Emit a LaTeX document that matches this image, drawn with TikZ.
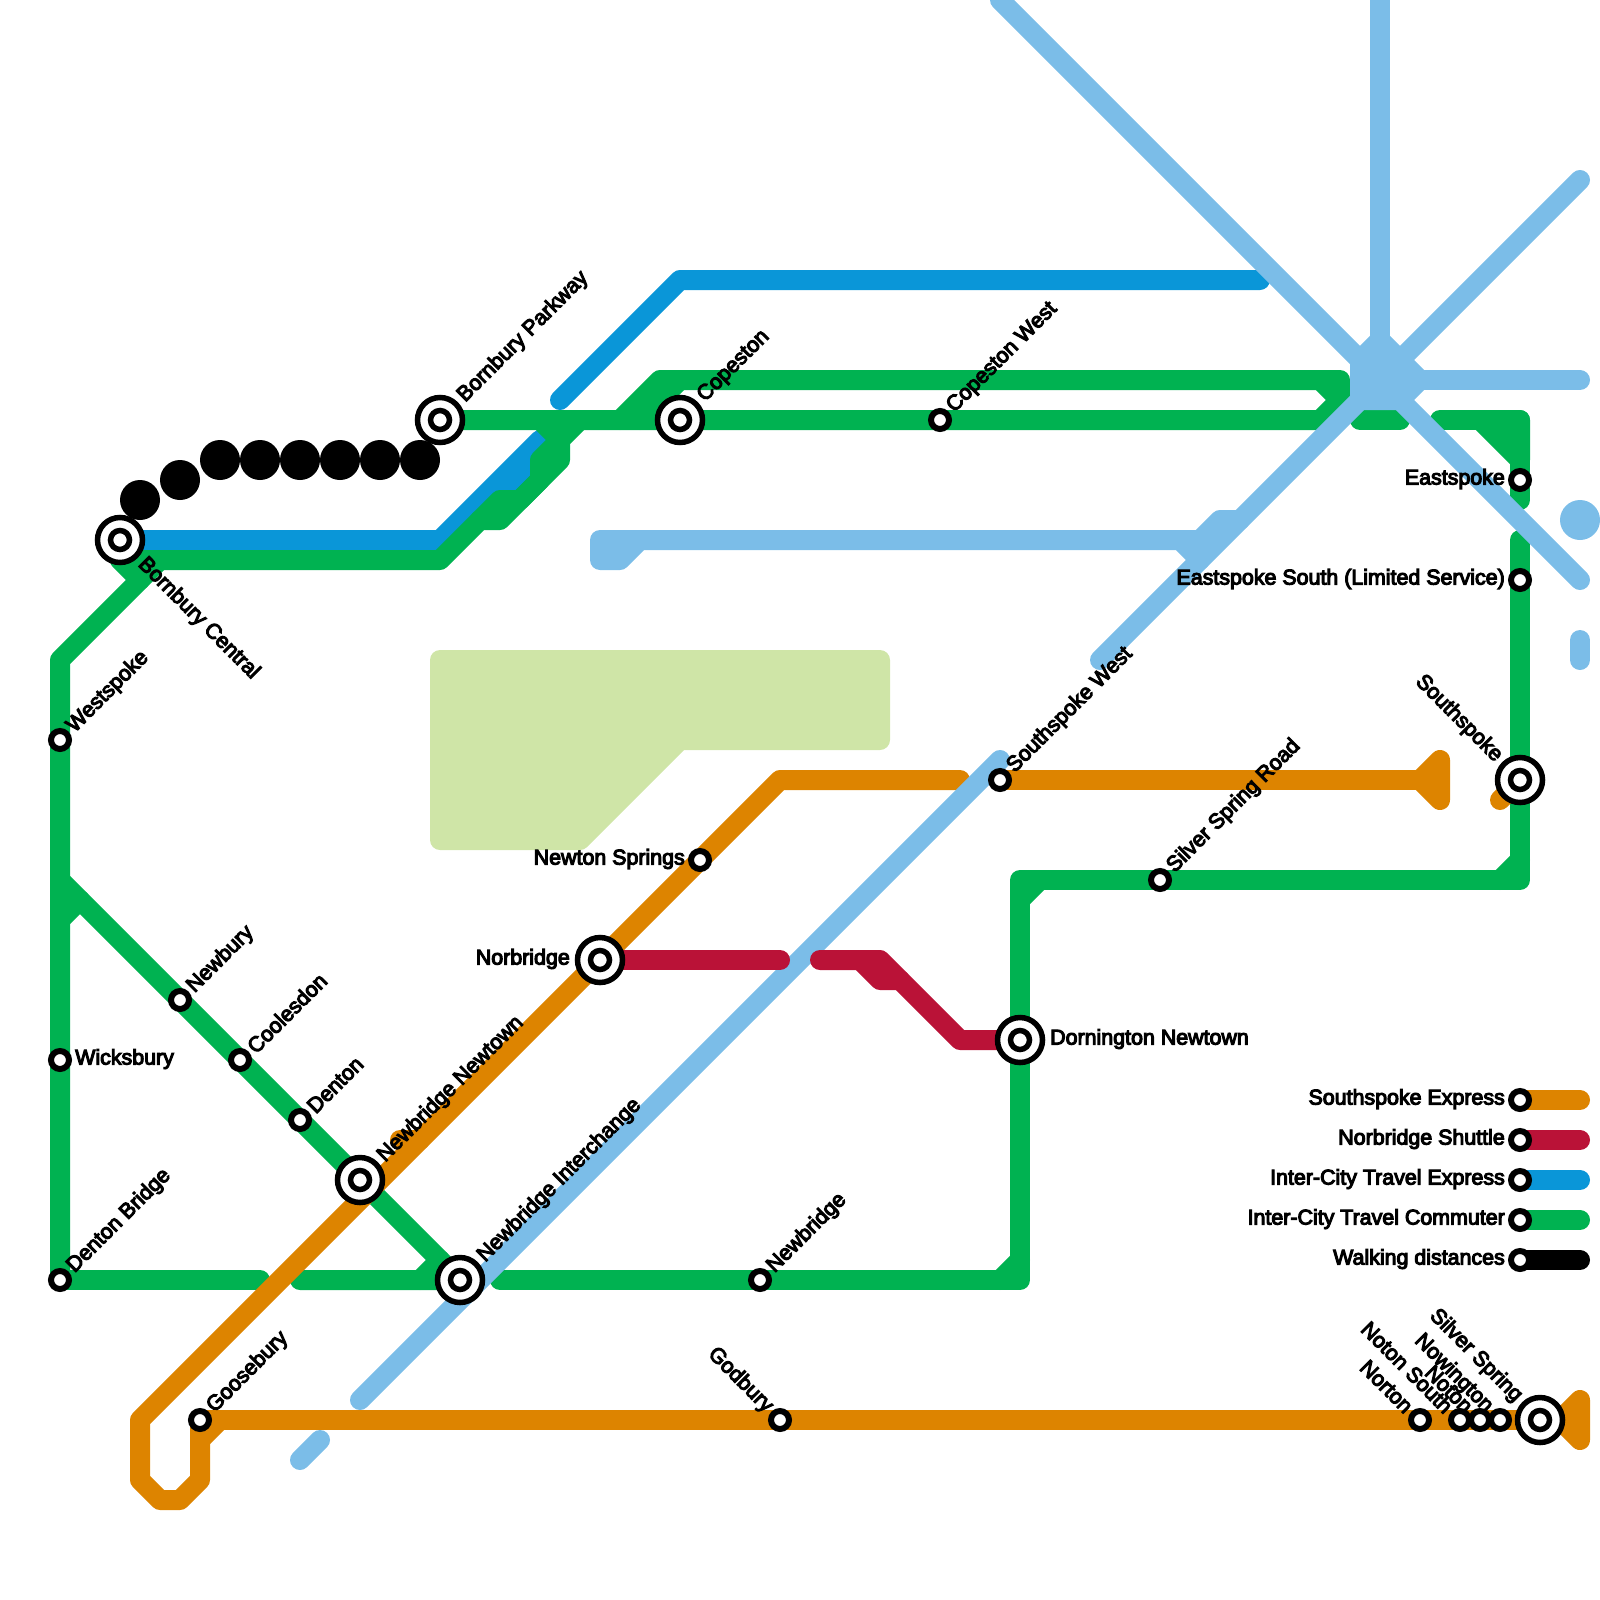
\documentclass[tikz,border=0pt]{standalone}
\usepackage{fontspec}
\setmainfont[FakeBold=5]{Liberation Sans}
\definecolor{mapGreen}{HTML}{00B251}
\definecolor{mapOrange}{HTML}{DD8400}
\definecolor{mapRed}{HTML}{BA1237}
\definecolor{mapBlue}{HTML}{0A96D8}
\definecolor{mapSky}{HTML}{7BBDE8}
\definecolor{mapPark}{HTML}{CFE5A7}
\usetikzlibrary{backgrounds}

\begin{document}
\begin{tikzpicture}[
  x=20pt,y=-20pt,
  stn/.style={circle,draw=black,fill=white,line width=6pt,inner sep=0pt,outer sep=0pt,minimum size=18pt},
  xout/.style={circle,draw=black,fill=white,line width=5.5pt,inner sep=0pt,outer sep=0pt,minimum size=45pt},
  xin/.style={circle,draw=black,fill=white,line width=5.5pt,inner sep=0pt,outer sep=0pt,minimum size=19pt},
  walk/.style={circle,fill=black,inner sep=0pt,outer sep=0pt,minimum size=40pt},
  skydot/.style={circle,fill=mapSky,inner sep=0pt,outer sep=0pt,minimum size=40pt},
  txt/.style={font=\fontsize{21.4}{23}\selectfont,inner sep=0pt,text=black},
  ne/.style={txt,rotate=45,anchor=west,xshift=#1},
  se/.style={txt,rotate=-45,anchor=west,xshift=#1},
  nw/.style={txt,rotate=-45,anchor=east,xshift=-#1},
  lft/.style={txt,anchor=east,xshift=-#1,yshift=1pt},
  rgt/.style={txt,anchor=west,xshift=#1,yshift=1pt},
  ln/.style={line width=20pt,line cap=round,line join=round,draw=#1},
]
  \useasboundingbox (0,0) rectangle (80,80);

  % Stations
  \foreach \nm/\pos in {westspoke/{3,37},wicksbury/{3,53},dentonb/{3,64},newbury/{9,50},coolesdon/{12,53},
      denton/{15,56},goosebury/{10,71},godbury/{39,71},newbridge/{38,64},newtons/{35,43},copestonw/{47,21},
      southspokew/{50,39},silverr/{58,44},eastspoke/{76,24},eastspokes/{76,29},norton/{71,71},notons/{73,71},
      noton/{74,71},nowington/{75,71},lgora/{76,55},lgred/{76,57},lgblu/{76,59},lggrn/{76,61},lgblk/{76,63}}
    \node[stn] (\nm) at (\pos) {};

  % Interchanges
  \foreach \nm/\pos in {bornburyc/{6,27},bornburyp/{22,21},copeston/{34,21},newbridgen/{18,59},newbridgei/{23,64},
      norbridge/{30,48},dornington/{51,52},southspoke/{76,39},silvers/{77,71}}{
    \node[xout] (\nm) at (\pos) {};
    \node[xin] (\nm in) at (\pos) {};
  }

  % Labels
  \foreach \nm/\txt in {westspoke/Westspoke,dentonb/Denton Bridge,newbury/Newbury,coolesdon/Coolesdon,denton/Denton,
      goosebury/Goosebury,newbridge/Newbridge,copestonw/Copeston West,southspokew/Southspoke West,silverr/Silver Spring Road}
    \node[ne=15pt] (\nm txt) at (\nm) {\txt};
  \foreach \nm/\txt in {bornburyp/Bornbury Parkway,copeston/Copeston,newbridgen/Newbridge Newtown,newbridgei/Newbridge Interchange}
    \node[ne=30pt] (\nm txt) at (\nm) {\txt};
  \node[se=30pt] (bornburyc txt) at (bornburyc) {Bornbury Central};
  \foreach \nm/\txt in {godbury/Godbury,norton/Norton,notons/Noton South,noton/Noton,nowington/Nowington}
    \node[nw=15pt] (\nm txt) at (\nm) {\txt};
  \node[nw=30pt] (southspoke txt) at (southspoke) {Southspoke};
  \node[nw=30pt] (silvers txt) at (silvers) {Silver Spring};
  \foreach \nm/\txt in {eastspoke/Eastspoke,eastspokes/Eastspoke South (Limited Service),newtons/Newton Springs,
      lgora/Southspoke Express,lgred/Norbridge Shuttle,lgblu/Inter-City Travel Express,
      lggrn/Inter-City Travel Commuter,lgblk/Walking distances}
    \node[lft=15pt] (\nm txt) at (\nm) {\txt};
  \node[lft=30pt] (norbridge txt) at (norbridge) {Norbridge};
  \node[rgt=15pt] (wicksbury txt) at (wicksbury) {Wicksbury};
  \node[rgt=30pt] (dornington txt) at (dornington) {Dornington Newtown};

  % Walking dots
  \foreach \i/\pos in {1/{7,25},2/{9,24},3/{11,23},4/{13,23},5/{15,23},6/{17,23},7/{19,23},8/{21,23}}
    \node[walk] (walk\i) at (\pos) {};

  \begin{pgfonlayer}{background}
    % Park
    \filldraw[ln=mapPark,fill=mapPark] (22,33) -- (44,33) -- (44,37) -- (34,37) -- (29,42) -- (22,42) -- cycle;

    % Inter-City Travel Express
    \draw[ln=mapBlue] (bornburyc.center) -- (22,27) -- (25,24) -- (26,24) -- (26,23) -- (27,22) -- (25,24);
    \draw[ln=mapBlue] (28,20) -- (34,14) -- (63,14);
    \draw[ln=mapBlue] (lgblu.center) -- (79,59);

    % Inter-City Travel Commuter
    \draw[ln=mapGreen] (dentonb.center) -- (westspoke.center) -- (3,33) -- (8,28);
    \draw[ln=mapGreen] (7,29) -- (6,28) -- (22,28) -- (24,26) -- (25,26) -- (28,23) -- (28,22) -- (29,21);
    \draw[ln=mapGreen] (24,26) -- (25,25) -- (26,25) -- (27,24) -- (27,23) -- (28,22) -- (27,21);
    \draw[ln=mapGreen] (bornburyp.center) -- (copeston.center) -- (copestonw.center) -- (66,21) -- (67,20) -- (66,19);
    \draw[ln=mapGreen] (31,21) -- (33,19) -- (67,19) -- (67,20);
    \draw[ln=mapGreen] (32,21) -- (34,19);
    \draw[ln=mapGreen] (68,21) -- (70,21);
    \draw[ln=mapGreen] (72,21) -- (76,21) -- (eastspoke.center) -- (76,25);
    \filldraw[ln=mapGreen,fill=mapGreen] (74,21) -- (76,21) -- (76,23) -- cycle;
    \draw[ln=mapGreen] (76,27) -- (eastspokes.center) -- (southspoke.center) -- (76,44) -- (silverr.center) -- (51,44)
      -- (dornington.center) -- (51,64) -- (newbridge.center) -- (25,64);
    \draw[ln=mapGreen] (75,44) -- (76,43);
    \draw[ln=mapGreen] (51,45) -- (52,44);
    \draw[ln=mapGreen] (50,64) -- (51,63);
    \draw[ln=mapGreen] (dentonb.center) -- (13,64);
    \draw[ln=mapGreen] (15,64) -- (newbridgei.center) -- (3,44);
    \draw[ln=mapGreen] (21,64) -- (22,63);
    \draw[ln=mapGreen] (3,46) -- (4,45);
    \draw[ln=mapGreen] (lggrn.center) -- (79,61);

    % Southspoke Express
    \draw[ln=mapOrange] (goosebury.center) -- (10,74) -- (9,75) -- (8,75) -- (7,74) -- (7,71) -- (norbridge.center)
      -- (newtons.center) -- (39,39) -- (48,39);
    \draw[ln=mapOrange] (20,57) -- (21,57);
    \draw[ln=mapOrange] (southspokew.center) -- (71,39);
    \filldraw[ln=mapOrange,fill=mapOrange] (71,39) -- (72,38) -- (72,40) -- cycle;
    \draw[ln=mapOrange] (75,40) -- (southspoke.center);
    \draw[ln=mapOrange] (10,72) -- (11,71);
    \draw[ln=mapOrange] (goosebury.center) -- (godbury.center) -- (silvers.center) -- (78,71);
    \filldraw[ln=mapOrange,fill=mapOrange] (78,71) -- (79,70) -- (79,72) -- cycle;
    \draw[ln=mapOrange] (lgora.center) -- (79,55);

    % Walking distances
    \draw[ln=black] (lgblk.center) -- (79,63);

    % Unnamed sky line
    \filldraw[ln=mapSky,fill=mapSky] (68,18) -- (69,17) -- (70,18) -- (71,19) -- (70,20) -- (68,20) -- cycle;
    \draw[ln=mapSky] (50,0) -- (79,29);
    \draw[ln=mapSky] (69,0) -- (69,19);
    \draw[ln=mapSky] (79,9) -- (55,33);
    \draw[ln=mapSky] (69,19) -- (79,19);
    \draw[ln=mapSky] (18,70) -- (50,38);
    \draw[ln=mapSky] (15,73) -- (16,72);
    \draw[ln=mapSky] (79,32) -- (79,33);
    \draw[ln=mapSky] (32,27) -- (31,28) -- (30,28) -- (30,27) -- (60,27) -- (59,27) -- (60,28);
    \draw[ln=mapSky] (60,27) -- (61,26) -- (62,26);

    % Norbridge Shuttle
    \draw[ln=mapRed] (norbridge.center) -- (39,48);
    \draw[ln=mapRed] (41,48) -- (44,48) -- (48,52) -- (dornington.center);
    \draw[ln=mapRed] (43,48) -- (44,49) -- (45,49);
    \draw[ln=mapRed] (lgred.center) -- (79,57);
  \end{pgfonlayer}

  \node[skydot] (skyspot) at (79,26) {};
\end{tikzpicture}
\end{document}
